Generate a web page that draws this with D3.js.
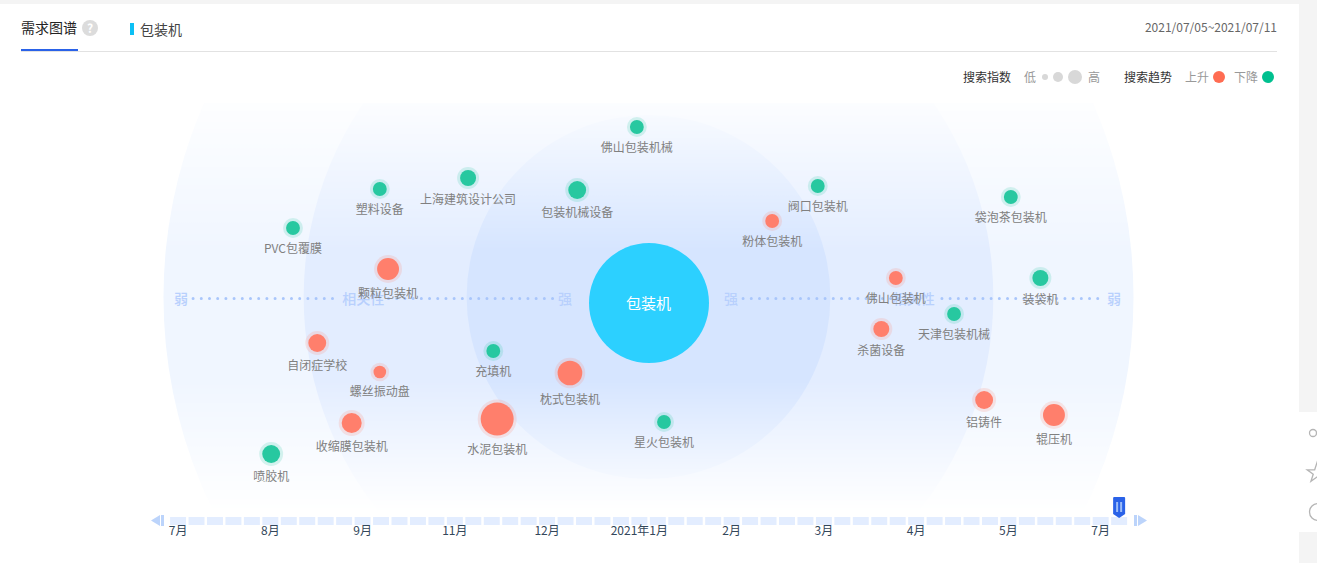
<!DOCTYPE html>
<html><head><meta charset="utf-8">
<script src="https://cdn.jsdelivr.net/npm/d3@7"></script>
<style>html,body{margin:0;padding:0;background:#fff;overflow:hidden}svg{display:block}
text{font-family:"Noto Sans CJK SC","Noto Sans",sans-serif}</style></head>
<body><div id="c"></div>
<script>
// Keywords: name, correlation (-100..100), vertical offset (-100..100), search index, trend
const names=["佛山包装机械","上海建筑设计公司","塑料设备","包装机械设备","阀口包装机","袋泡茶包装机","粉体包装机","PVC包覆膜","颗粒包装机","装袋机","佛山包装机","天津包装机械","杀菌设备","自闭症学校","充填机","螺丝振动盘","枕式包装机","铝铸件","水泥包装机","收缩膜包装机","辊压机","星火包装机","喷胶机"];
const correlation=[-2.4,-37.2,-55.4,-14.7,34.9,74.7,25.5,-73.3,-53.7,80.8,51,63,48,-68.3,-32,-55.4,-16.2,69.2,-31.2,-61.2,83.6,3.2,-77.8];
const offset=[85,59.5,54,53.5,55.5,50,38,34.5,14,9.5,9.5,-8.5,-16,-23,-27,-37.5,-38,-51.5,-61,-63,-59,-62.5,-78.5];
const searchIndex=[12,16,12,20,12,12,12,12,30,16,12,12,16,20,12,10,38,20,68,25,30,12,20];
const trend=[0,0,0,0,0,0,1,0,1,0,1,0,1,1,0,1,1,1,1,1,1,0,0];
const timeTicks=["7月","8月","9月","11月","12月","2021年1月","2月","3月","4月","5月","7月"];
const weekCount=52, tickEvery=5;
const ringLevels=[100,71.1,37.5];
const ringColors=["#f0f6ff","#e3edff","#d6e5ff"];
const axisLabels=[{v:-96.4,t:"弱"},{v:-58.8,t:"相关性"},{v:-17.2,t:"强"},{v:17,t:"强"},{v:54.7,t:"相关性"},{v:96,t:"弱"}];
const axisDots=[[-93.9,-63.6],[-53.6,-19.3],[19.5,51.8],[60.5,94]];
const date="2021/07/05~2021/07/11";

const W=1317,H=563;
const svg=d3.select("#c").append("svg").attr("width",W).attr("height",H);
const x=d3.scaleLinear().domain([-100,100]).range([163.5,1133.5]);
const y=d3.scaleLinear().domain([-100,100]).range([497,97]);
const R=d3.scaleLinear().domain([0,100]).range([0,485]);
const r=d3.scaleSqrt().domain([0,100]).range([0,20]);
const upC="#ff7f6c",downC="#27c8a0";

// page frame
svg.append("rect").attr("width",W).attr("height",H).attr("fill","#fff");
svg.append("rect").attr("width",W).attr("height",4).attr("fill","#f4f4f4");
svg.append("rect").attr("x",1299).attr("width",18).attr("height",H).attr("fill","#f4f4f4");
svg.append("rect").attr("x",1299).attr("y",412).attr("width",18).attr("height",120).attr("fill","#fff");
const ic=svg.append("g").attr("fill","none").attr("stroke","#b5b5b5").attr("stroke-width",1.3);
ic.append("circle").attr("cx",1313).attr("cy",433).attr("r",3.5);
ic.append("path").attr("d",d3.symbol(d3.symbolStar,120)()).attr("transform","translate(1317,473)");
ic.append("circle").attr("cx",1318).attr("cy",512).attr("r",8.5);

// header
svg.append("text").attr("x",21).attr("y",33).attr("font-size",14).attr("fill","#222").text("需求图谱");
svg.append("circle").attr("cx",90).attr("cy",28).attr("r",8).attr("fill","#dcdcdc");
svg.append("text").attr("x",90).attr("y",32.5).attr("text-anchor","middle").attr("font-size",12).attr("font-weight",700).attr("fill","#fff").text("?");
svg.append("rect").attr("x",21).attr("y",51).attr("width",1256).attr("height",1).attr("fill","#e2e2e2");
svg.append("rect").attr("x",21).attr("y",49).attr("width",57).attr("height",2).attr("fill","#2a62e8");
svg.append("rect").attr("x",130).attr("y",23).attr("width",4).attr("height",12).attr("fill","#0cc0f5");
svg.append("text").attr("x",140).attr("y",35).attr("font-size",14).attr("fill","#444").text("包装机");
svg.append("text").attr("x",1277).attr("y",32).attr("text-anchor","end").attr("font-size",12).attr("fill","#666").text(date);

// legend
const lg=svg.append("g").attr("font-size",12);
lg.append("text").attr("x",963).attr("y",82).attr("fill","#333").text("搜索指数");
lg.append("text").attr("x",1024).attr("y",82).attr("fill","#999").text("低");
lg.selectAll("circle.s").data([[1045,3],[1058,5],[1075,7]]).join("circle").attr("class","s").attr("cx",d=>d[0]).attr("cy",77).attr("r",d=>d[1]).attr("fill","#d8d8d8");
lg.append("text").attr("x",1088).attr("y",82).attr("fill","#999").text("高");
lg.append("text").attr("x",1124).attr("y",82).attr("fill","#333").text("搜索趋势");
lg.append("text").attr("x",1185).attr("y",82).attr("fill","#999").text("上升");
lg.append("circle").attr("cx",1219).attr("cy",77).attr("r",6).attr("fill","#ff6c52");
lg.append("text").attr("x",1234).attr("y",82).attr("fill","#999").text("下降");
lg.append("circle").attr("cx",1268).attr("cy",77).attr("r",6).attr("fill","#00c08f");

// rings, faded vertically
const defs=svg.append("defs");
const g=defs.append("linearGradient").attr("id","fade").attr("gradientUnits","userSpaceOnUse").attr("x1",0).attr("x2",0).attr("y1",103).attr("y2",512);
[[0,.12],[.36,1],[.68,1],[1,0]].forEach(s=>g.append("stop").attr("offset",s[0]).attr("stop-color","#fff").attr("stop-opacity",s[1]));
const m=defs.append("mask").attr("id","m").attr("maskUnits","userSpaceOnUse").attr("x",0).attr("y",0).attr("width",W).attr("height",H);
m.append("rect").attr("x",0).attr("y",103).attr("width",W).attr("height",409).attr("fill","url(#fade)");
svg.append("g").attr("mask","url(#m)").selectAll("circle").data(ringLevels).join("circle")
 .attr("cx",x(0)).attr("cy",y(0)).attr("r",d=>R(d)).attr("fill",(d,i)=>ringColors[i]);

// correlation axis
svg.append("g").selectAll("line").data(axisDots).join("line")
 .attr("x1",d=>x(d[0])).attr("x2",d=>x(d[1])).attr("y1",y(0)+1.5).attr("y2",y(0)+1.5)
 .attr("stroke","#a9c6fb").attr("stroke-width",3).attr("stroke-linecap","round").attr("stroke-dasharray","0 8.2");
svg.append("g").selectAll("text").data(axisLabels).join("text")
 .attr("x",d=>x(d.v)).attr("y",y(0)+7).attr("text-anchor","middle").attr("font-size",14).attr("font-weight",500).attr("fill","#b8d0fd").text(d=>d.t);

// centre
svg.append("circle").attr("cx",x(0)+.5).attr("cy",303).attr("r",60).attr("fill","#2cd0ff");
svg.append("text").attr("x",x(0)).attr("y",308.5).attr("text-anchor","middle").attr("font-size",15).attr("fill","#fff").text("包装机");

// bubbles
const idx=d3.range(names.length);
const b=svg.append("g").selectAll("g").data(idx).join("g").attr("transform",i=>`translate(${x(correlation[i])},${y(offset[i])})`);
b.append("circle").attr("r",i=>r(searchIndex[i])+3).attr("fill",i=>trend[i]?upC:downC).attr("opacity",.18);
b.append("circle").attr("r",i=>r(searchIndex[i])).attr("fill",i=>trend[i]?upC:downC);
b.append("text").attr("y",i=>r(searchIndex[i])*1.1+17.3).attr("text-anchor","middle").attr("font-size",12).attr("fill","#808080").text(i=>names[i]);

// timeline
const t=d3.scaleBand().domain(d3.range(weekCount)).range([168.8,1128.4]).paddingInner(.135).paddingOuter(.07);
svg.append("g").selectAll("rect").data(d3.range(weekCount)).join("rect")
 .attr("x",d=>t(d)).attr("y",517).attr("width",t.bandwidth()).attr("height",8).attr("fill","#e3edff");
svg.append("g").selectAll("text").data(timeTicks).join("text")
 .attr("x",(d,i)=>t(i*tickEvery)+t.bandwidth()/2).attr("y",535).attr("text-anchor","middle").attr("font-size",12).attr("fill","#33475b").text(d=>d);
const a=svg.append("g").attr("fill","#bcd4fb");
a.append("path").attr("d","M151,520.5L160,515V526Z");
a.append("rect").attr("x",161).attr("y",515).attr("width",3).attr("height",11);
a.append("rect").attr("x",1134).attr("y",515).attr("width",3).attr("height",11);
a.append("path").attr("d","M1147,520.5L1138,515V526Z");
const mk=svg.append("g").attr("transform",`translate(${t(weekCount-1)+t.bandwidth()/2},0)`);
mk.append("path").attr("d","M-6,498Q-6,497 -5,497H5Q6,497 6,498V514L0,518L-6,514Z").attr("fill","#2a62e8");
mk.selectAll("rect").data([-3,1]).join("rect").attr("x",d=>d).attr("y",502).attr("width",2).attr("height",10).attr("fill","#9dbdf8");
</script></body></html>
